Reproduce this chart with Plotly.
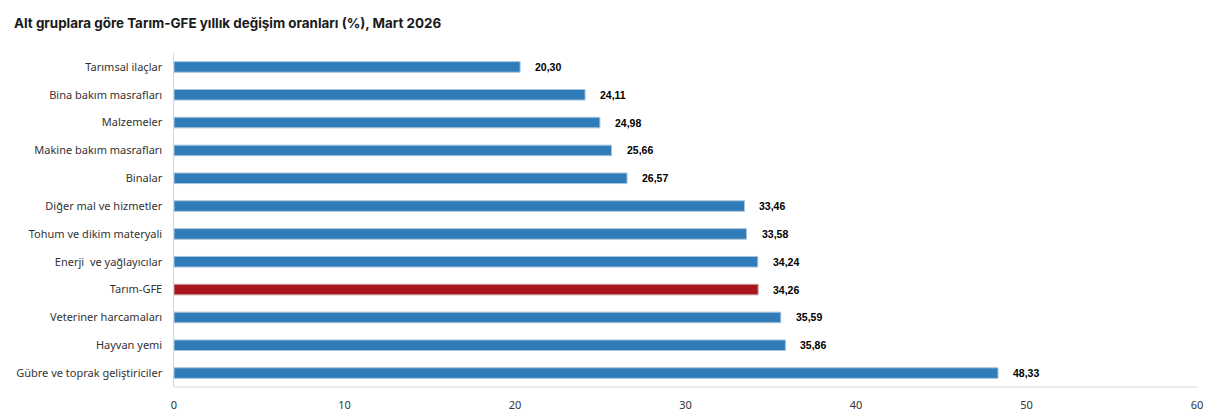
import plotly.graph_objects as go

categories = ["Tarımsal ilaçlar", "Bina bakım masrafları", "Malzemeler", "Makine bakım masrafları",
              "Binalar", "Diğer mal ve hizmetler", "Tohum ve dikim materyali", "Enerji\u00a0 ve yağlayıcılar",
              "Tarım-GFE", "Veteriner harcamaları", "Hayvan yemi", "Gübre ve toprak geliştiriciler"]
values = [20.30, 24.11, 24.98, 25.66, 26.57, 33.46, 33.58, 34.24, 34.26, 35.59, 35.86, 48.33]
highlight = "Tarım-GFE"
x_ticks = [0, 10, 20, 30, 40, 50, 60]

colors = ["#a8151b" if c == highlight else "#2f7cb9" for c in categories]
line_colors = ["#c8a0a0" if c == highlight else "#a8c4dd" for c in categories]

fig = go.Figure(go.Bar(
    x=values, y=categories, orientation="h",
    marker=dict(color=colors, line=dict(color=line_colors, width=1)),
    width=0.38, hoverinfo="skip",
))

for c, v in zip(categories, values):
    fig.add_annotation(x=v, y=c, text=f"<b>{v:.2f}</b>".replace(".", ","), showarrow=False,
                       xanchor="left", xshift=13, font=dict(family="Liberation Sans, Arial", size=10.5, color="#000"))

fig.update_layout(
    width=1229, height=420,
    margin=dict(l=174, r=32, t=53, b=33),
    paper_bgcolor="white", plot_bgcolor="white",
    showlegend=False,
    title=dict(text="<b>Alt gruplara göre Tarım-GFE yıllık değişim oranları (%), Mart 2026</b>",
               x=14 / 1229, xanchor="left", y=1 - 23 / 420, yanchor="middle",
               font=dict(family="Inter, Noto Sans", size=13.4, color="#1a1a1a")),
    xaxis=dict(range=[0, 60], tickvals=x_ticks, showgrid=False, zeroline=False,
               showline=False, ticks="", ticklabelstandoff=10, automargin=False,
               tickfont=dict(family="Noto Sans, Open Sans", size=11, color="#333"),
               fixedrange=True),
    yaxis=dict(autorange="reversed", showgrid=False, zeroline=False, ticks="",
               showline=True, linecolor="#ccd6eb", linewidth=1, automargin=False,
               ticksuffix="   ", tickfont=dict(family="Noto Sans, Open Sans", size=11, color="#333"),
               fixedrange=True),
    bargap=0.6,
)
fig.add_shape(type="line", xref="x", yref="paper", x0=0, x1=60, y0=0, y1=0,
              line=dict(color="#e6e6e6", width=1.5))

fig.write_html("out.html")
